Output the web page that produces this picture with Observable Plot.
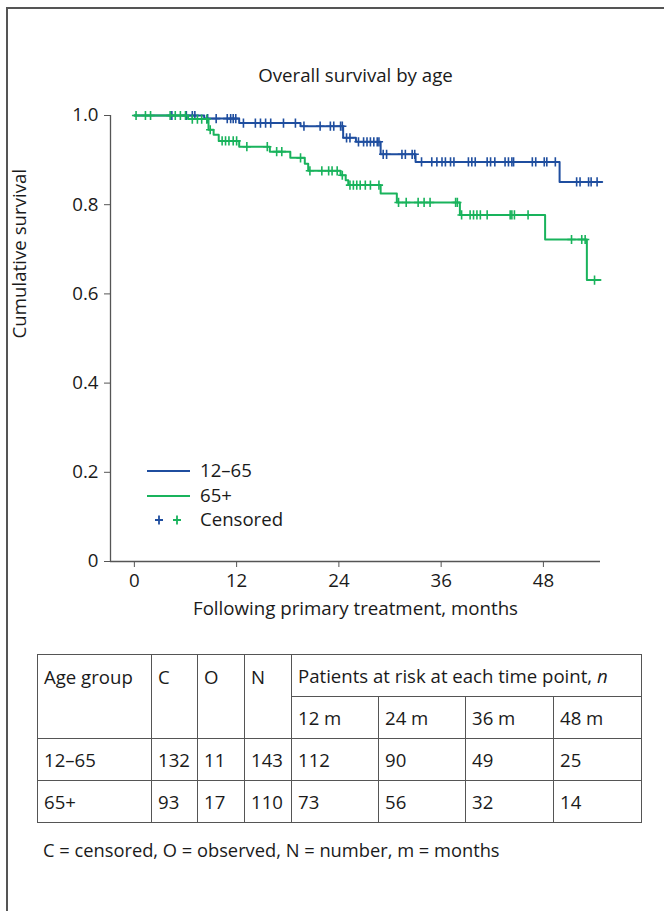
<!DOCTYPE html>
<html>
<head>
<meta charset="utf-8">
<script src="https://cdn.jsdelivr.net/npm/d3@7"></script>
<script src="https://cdn.jsdelivr.net/npm/@observablehq/plot@0.6"></script>
<style>
  body { margin: 0; background: #fff; font-family: "Open Sans", sans-serif; color: #1a1a1a; }
  #frame { position: absolute; left: 6px; top: 7px; width: 670px; height: 920px;
           border-left: 2px solid #555; border-top: 2px solid #555; }
  #chart { position: absolute; left: 0; top: 0; }
  .leg { position: absolute; font-size: 18.6px; line-height: 1; }
  table { position: absolute; left: 37px; top: 654px; width: 604px; border-collapse: collapse;
          table-layout: fixed; font-size: 18.6px; }
  td { border: 1px solid #555; padding: 0 0 0 6px; height: 42px; vertical-align: middle;
       white-space: nowrap; box-sizing: border-box; }
  td.top { vertical-align: top; padding-top: 9px; }
  #caption { position: absolute; left: 43px; top: 838px; font-size: 18.3px; line-height: 24px; }
</style>
</head>
<body>
<div id="frame"></div>
<div id="chart"></div>
<div id="legend"></div>
<div id="table"></div>
<div id="caption"></div>
<script>
// ---- data ----
const title = "Overall survival by age";
const xLabel = "Following primary treatment, months";
const yLabel = "Cumulative survival";
const xTicks = [0, 12, 24, 36, 48];
const yTicks = [0, 0.2, 0.4, 0.6, 0.8, 1.0];
const xDomain = [-2.8, 54.7];
const groups = ["12–65", "65+"];
const colors = ["#1f4e9f", "#19b35c"];

// Kaplan–Meier step points (time in months, survival)
const youngTimes = [0, 8.2, 12.3, 19.5, 24.5, 26.0, 28.9, 33.0, 49.9, 54.9];
const youngSurv  = [1, 0.993, 0.983, 0.976, 0.950, 0.941, 0.913, 0.896, 0.851, 0.851];
const oldTimes = [0, 6.3, 8.7, 9.3, 9.9, 12.3, 15.9, 18.3, 20.0, 20.4, 24.2, 24.8, 25.1, 28.9, 30.8, 38.2, 48.2, 53.1, 54.7];
const oldSurv  = [1, 0.992, 0.968, 0.957, 0.943, 0.930, 0.919, 0.905, 0.892, 0.876, 0.866, 0.855, 0.844, 0.825, 0.805, 0.777, 0.722, 0.631, 0.631];

// censoring times
const youngCensor = [4.4, 6.1, 6.8, 7.1, 8.6, 9.6, 10.9, 11.3, 11.6, 11.9, 12.8, 14.2, 14.8, 15.4, 16.0, 17.5, 18.9,
  19.9, 21.8, 23.0, 23.4, 24.2, 24.4, 24.9, 25.3, 26.3, 26.9, 27.3, 27.7, 28.1, 28.5, 28.7, 29.2, 29.6, 31.4, 31.8,
  32.6, 32.9, 33.7, 34.9, 35.5, 36.1, 36.5, 37.1, 37.5, 39.2, 39.6, 40.0, 41.4, 41.8, 42.3, 43.5, 43.9, 44.3, 44.5,
  46.7, 47.1, 48.1, 48.4, 49.4, 51.9, 52.3, 53.3, 53.6, 54.3];
const oldCensor = [0.2, 1.3, 1.9, 4.2, 4.8, 5.4, 6.0, 6.8, 7.4, 7.9, 8.5, 8.9, 10.3, 10.7, 11.1, 11.6, 12.0, 13.2, 15.6,
  16.7, 17.3, 19.5, 20.6, 22.0, 22.8, 23.2, 23.8, 24.4, 25.3, 25.7, 26.1, 26.5, 27.1, 27.7, 28.7, 31.0, 31.9, 33.3,
  34.0, 34.7, 37.7, 37.9, 38.4, 39.4, 39.8, 40.2, 40.6, 41.4, 44.1, 44.3, 44.6, 46.2, 51.3, 52.5, 52.9, 54.0];

// table
const tableHead = ["Age group", "C", "O", "N"];
const atRiskHead = "Patients at risk at each time point, ";
const timePoints = ["12 m", "24 m", "36 m", "48 m"];
const censoredN = [132, 93];
const observedN = [11, 17];
const totalN = [143, 110];
const atRisk = [[112, 90, 49, 25], [73, 56, 32, 14]];
const captionText = "C = censored, O = observed, N = number, m = months";

// ---- build ----
function steps(times, surv, group) { return times.map((t, i) => ({t, s: surv[i], group})); }
function survAt(times, surv, t) { let s = surv[0]; for (let i = 0; i < times.length; i++) if (times[i] <= t) s = surv[i]; return s; }
const youngLine = steps(youngTimes, youngSurv, groups[0]);
const oldLine = steps(oldTimes, oldSurv, groups[1]);
const youngMarks = youngCensor.map(t => ({t, s: survAt(youngTimes, youngSurv, t)}));
const oldMarks = oldCensor.map(t => ({t, s: survAt(oldTimes, oldSurv, t)}));

const plusSymbol = {
  draw(context, size) {
    const r = Math.sqrt(size / Math.PI);
    context.moveTo(-r * 0.9, 0); context.lineTo(r * 0.9, 0);
    context.moveTo(0, -r); context.lineTo(0, r);
  }
};

const axisColor = "#555";
const fs = 18.7;
const chart = Plot.plot({
  width: 664, height: 640,
  marginLeft: 110, marginRight: 64, marginTop: 115, marginBottom: 79,
  x: {domain: xDomain},
  y: {domain: [0, 1]},
  style: {fontFamily: "Open Sans", fontSize: fs + "px", color: "#1a1a1a", background: "transparent", overflow: "visible"},
  marks: [
    Plot.axisX({ticks: xTicks, tickSize: 6, tickPadding: 6, label: null, stroke: axisColor, tickFormat: d => String(d)}),
    Plot.axisY({ticks: yTicks, tickSize: 6, tickPadding: 6, label: null, stroke: axisColor,
                tickFormat: d => d === 0 ? "0" : d.toFixed(1)}),
    Plot.ruleY([0], {stroke: axisColor, strokeWidth: 1.3}),
    Plot.ruleX([xDomain[0]], {stroke: axisColor, strokeWidth: 1.3}),
    Plot.line(youngLine, {x: "t", y: "s", curve: "step-after", stroke: colors[0], strokeWidth: 2}),
    Plot.dot(youngMarks, {x: "t", y: "s", symbol: plusSymbol, r: 4.6, fill: "none", stroke: colors[0], strokeWidth: 1.6}),
    Plot.line(oldLine, {x: "t", y: "s", curve: "step-after", stroke: colors[1], strokeWidth: 2}),
    Plot.dot(oldMarks, {x: "t", y: "s", symbol: plusSymbol, r: 4.6, fill: "none", stroke: colors[1], strokeWidth: 1.6}),
    Plot.text([title], {text: d => d, frameAnchor: "top", dy: -47, fontSize: fs}),
    Plot.text([xLabel], {text: d => d, frameAnchor: "bottom", dy: 53, fontSize: fs}),
    Plot.text([yLabel], {text: d => d, frameAnchor: "left", dx: -90, rotate: -90, fontSize: fs})
  ]
});
document.getElementById("chart").appendChild(chart);

// legend (HTML overlay)
const legend = document.getElementById("legend");
const legRows = [
  {label: groups[0], color: colors[0], top: 471},
  {label: groups[1], color: colors[1], top: 496}
];
legRows.forEach(r => {
  const line = document.createElement("div");
  line.style.cssText = `position:absolute;left:147px;width:43px;top:${r.top - 1}px;height:0;border-top:2px solid ${r.color}`;
  legend.appendChild(line);
  const t = document.createElement("div");
  t.className = "leg"; t.textContent = r.label;
  t.style.cssText += `left:200px;top:${r.top - 10}px`;
  legend.appendChild(t);
});
const ns = "http://www.w3.org/2000/svg";
const censSvg = document.createElementNS(ns, "svg");
censSvg.setAttribute("width", 40); censSvg.setAttribute("height", 14);
censSvg.style.cssText = "position:absolute;left:152px;top:513px";
[[7, colors[0]], [25, colors[1]]].forEach(([cx, c]) => {
  const p = document.createElementNS(ns, "path");
  p.setAttribute("d", `M${cx - 4},7H${cx + 4}M${cx},2.5V11.5`);
  p.setAttribute("stroke", c); p.setAttribute("stroke-width", 1.8); p.setAttribute("fill", "none");
  censSvg.appendChild(p);
});
legend.appendChild(censSvg);
const ct = document.createElement("div");
ct.className = "leg"; ct.textContent = "Censored";
ct.style.cssText += "left:200px;top:510px";
legend.appendChild(ct);

// table
const tbl = document.createElement("table");
const colW = [114, 46, 47, 47, 87, 87, 88, 88];
const cg = document.createElement("colgroup");
colW.forEach(w => { const c = document.createElement("col"); c.style.width = w + "px"; cg.appendChild(c); });
tbl.appendChild(cg);
const r1 = tbl.insertRow();
tableHead.forEach(h => { const c = r1.insertCell(); c.textContent = h; c.rowSpan = 2; c.className = "top"; });
const ph = r1.insertCell(); ph.colSpan = 4;
ph.innerHTML = atRiskHead + "<i>n</i>";
const r2 = tbl.insertRow();
timePoints.forEach(tp => { const c = r2.insertCell(); c.textContent = tp; });
groups.forEach((g, i) => {
  const r = tbl.insertRow();
  [g, censoredN[i], observedN[i], totalN[i], ...atRisk[i]].forEach(v => { const c = r.insertCell(); c.textContent = v; });
});
document.getElementById("table").appendChild(tbl);
document.getElementById("caption").textContent = captionText;
</script>
</body>
</html>
